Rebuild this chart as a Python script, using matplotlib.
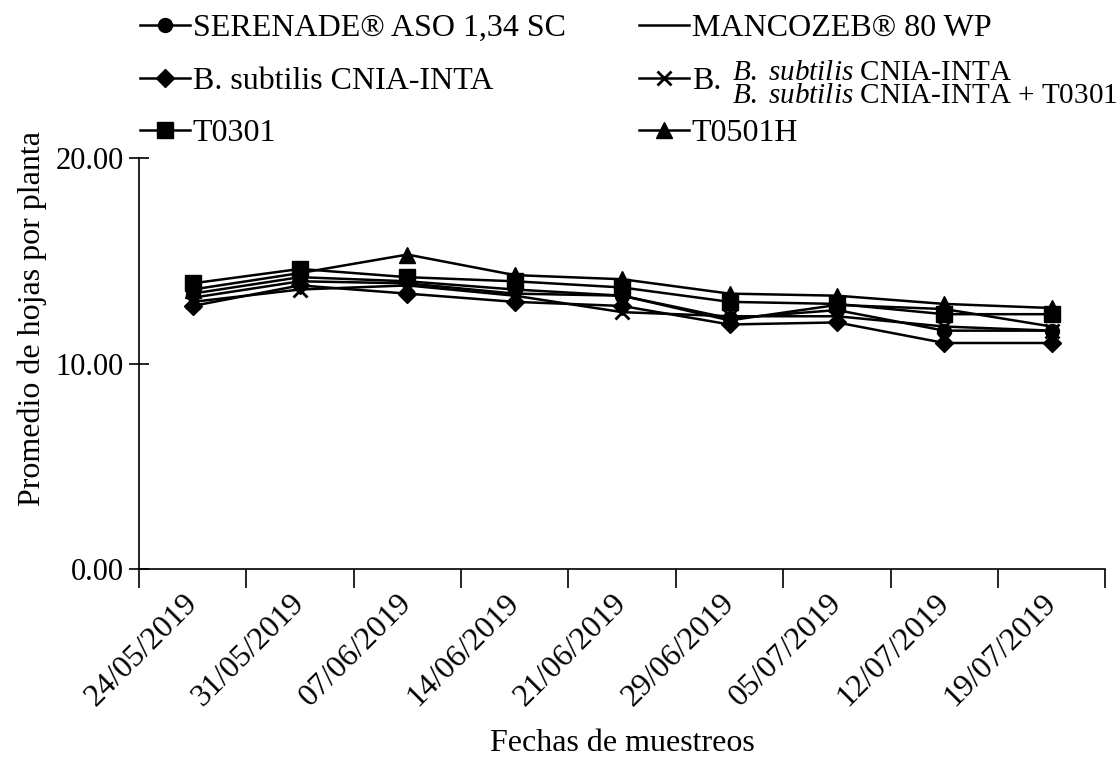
import matplotlib
matplotlib.use("Agg")
import matplotlib.pyplot as plt
import matplotlib.transforms as mtransforms
import numpy as np

plt.rcParams["font.family"] = ["Liberation Serif", "DejaVu Serif"]
plt.rcParams["mathtext.fontset"] = "custom"
plt.rcParams["mathtext.rm"] = "Liberation Serif"
plt.rcParams["mathtext.it"] = "Liberation Serif:italic"

fechas = ["24/05/2019", "31/05/2019", "07/06/2019", "14/06/2019", "21/06/2019",
          "29/06/2019", "05/07/2019", "12/07/2019", "19/07/2019"]

serenade = [13.4, 14.2, 14.0, 13.6, 13.3, 12.2, 12.6, 11.6, 11.6]
mancozeb = [13.2, 14.0, 13.9, 13.4, 13.3, 12.1, 12.85, 12.65, 11.8]
subtilis = [12.8, 13.8, 13.4, 13.0, 12.8, 11.9, 12.0, 11.0, 11.0]
subtilis_t0301 = [13.0, 13.6, 13.8, 13.3, 12.5, 12.3, 12.3, 11.8, 11.6]
t0301 = [13.9, 14.6, 14.2, 14.0, 13.7, 13.0, 12.9, 12.4, 12.4]
t0501h = [13.6, 14.4, 15.3, 14.3, 14.1, 13.4, 13.3, 12.9, 12.7]

series = [
    ("SERENADE® ASO 1,34 SC", serenade, "o", 10),
    ("B. subtilis CNIA-INTA", subtilis, "D", 9),
    ("T0301", t0301, "s", 11),
    ("MANCOZEB® 80 WP", mancozeb, None, 10),
    ("B.", subtilis_t0301, "x", 10),
    ("T0501H", t0501h, "^", 11),
]

fig = plt.figure(figsize=(11.2, 7.59), dpi=100)
ax = fig.add_axes([0.124, 0.250, 0.863, 0.542])

x = np.arange(len(fechas))
for label, vals, mk, ms in series:
    ax.plot(x, vals, color="black", lw=1.8, marker=mk, markersize=ms,
            markeredgewidth=2 if mk == "x" else 1, label=label)

ax.set_ylim(0, 20)
ax.set_xlim(-0.5, len(fechas) - 0.5)
ax.set_yticks([0, 10, 20])
ax.set_yticklabels(["0.00", "10.00", "20.00"])
ax.set_xticks(x)
ax.set_xticklabels(fechas, rotation=45, ha="right", rotation_mode="anchor")
ax.set_xticks(np.arange(-0.5, len(fechas)), minor=True)
ax.tick_params(axis="x", which="major", length=0, labelsize=23, pad=14)
ax.tick_params(axis="x", which="minor", length=14, width=1.2, direction="out")
ax.tick_params(axis="y", length=14, width=1.2, direction="inout", labelsize=22, pad=4)

# shift the rotated date labels a little to the left
shift = mtransforms.ScaledTranslation(-0.1, 0, fig.dpi_scale_trans)
for lbl in ax.get_xticklabels():
    lbl.set_transform(lbl.get_transform() + shift)

for s in ["top", "right"]:
    ax.spines[s].set_visible(False)
for s in ["left", "bottom"]:
    ax.spines[s].set_linewidth(1.2)

ax.set_ylabel("Promedio de hojas por planta", fontsize=23)
ax.yaxis.set_label_coords(-0.095, 0.61)
ax.set_xlabel("Fechas de muestreos", fontsize=23, labelpad=12)

leg = fig.legend(loc="upper left", bbox_to_anchor=(0.125, 0.982), ncol=2,
                 frameon=False, fontsize=23, handlelength=1.55, handletextpad=0.1,
                 columnspacing=2.3, labelspacing=0.73, borderpad=0, borderaxespad=0)

fig.text(0.654, 0.904, r"$\it{B.\ subtilis}$ CNIA-INTA", fontsize=21, va="center")
fig.text(0.654, 0.873, r"$\it{B.\ subtilis}$ CNIA-INTA + T0301", fontsize=21, va="center")

fig.savefig("out.png", dpi=100)
